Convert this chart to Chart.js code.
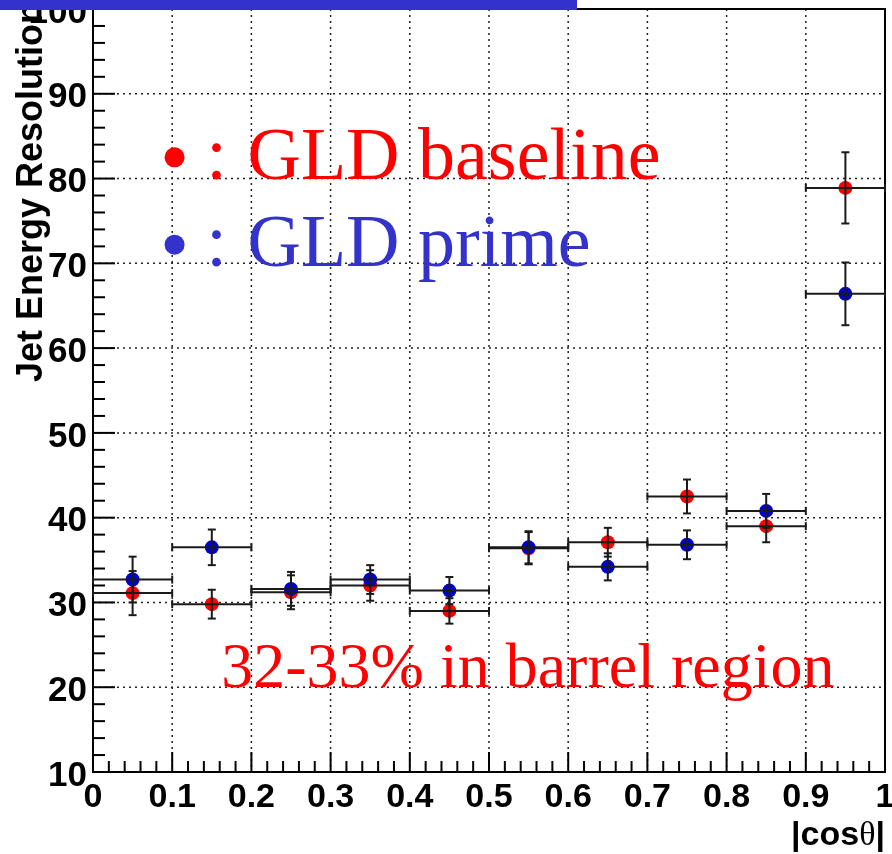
<!DOCTYPE html>
<html>
<head>
<meta charset="utf-8">
<script src="https://cdn.jsdelivr.net/npm/chart.js@4.4.0/dist/chart.umd.min.js"></script>
<style>
  html, body { margin: 0; padding: 0; background: #fff; }
  #wrap { width: 892px; height: 854px; }
</style>
</head>
<body>
<div id="wrap"><canvas id="res"></canvas></div>
<script>
// |cos(theta)| bin centres and half width
const binCenters = [0.05, 0.15, 0.25, 0.35, 0.45, 0.55, 0.65, 0.75, 0.85, 0.95];
const binHalfWidth = 0.05;

// GLD baseline (red)
const baselineRes = [31.1, 29.8, 31.2, 32.0, 29.0, 36.4, 37.1, 42.5, 39.0, 78.9];
const baselineErr = [2.6, 1.7, 2.0, 1.8, 1.5, 1.9, 1.7, 2.0, 1.9, 4.2];

// GLD prime (blue)
const primeRes = [32.7, 36.5, 31.6, 32.7, 31.4, 36.5, 34.2, 36.8, 40.8, 66.4];
const primeErr = [2.7, 2.1, 2.0, 1.7, 1.6, 1.9, 1.6, 1.7, 2.0, 3.7];

const xTickValues = [0, 0.1, 0.2, 0.3, 0.4, 0.5, 0.6, 0.7, 0.8, 0.9, 1];
const yTickValues = [10, 20, 30, 40, 50, 60, 70, 80, 90, 100];

const toPoints = (vals, errs) =>
  binCenters.map((c, i) => ({ x: c, y: vals[i], ex: binHalfWidth, ey: errs[i] }));

const SANS = '"Liberation Sans", Arial, Helvetica, sans-serif';
const SERIF = '"Liberation Serif", "Times New Roman", serif';

function line(ctx, x1, y1, x2, y2) {
  ctx.beginPath();
  ctx.moveTo(x1, y1);
  ctx.lineTo(x2, y2);
  ctx.stroke();
}

const rootStyle = {
  id: 'rootStyle',
  beforeDatasetsDraw(chart) {
    const { ctx, chartArea: a, scales: { x, y } } = chart;
    ctx.save();
    // dotted grid
    ctx.setLineDash([2, 4]);
    ctx.lineWidth = 1.5;
    ctx.strokeStyle = '#222';
    xTickValues.forEach((v) => {
      if (v <= 0 || v >= 1) return;
      const px = x.getPixelForValue(v);
      line(ctx, px, a.top, px, a.bottom);
    });
    yTickValues.forEach((v) => {
      if (v <= 10 || v >= 100) return;
      const py = y.getPixelForValue(v);
      line(ctx, a.left, py, a.right, py);
    });
    ctx.setLineDash([]);

    // inner tick marks
    ctx.lineWidth = 2;
    ctx.strokeStyle = '#000';
    for (let i = 0; i <= 50; i++) {
      const px = x.getPixelForValue(i / 50);
      const len = i % 5 === 0 ? 20 : 11;
      line(ctx, px, a.bottom, px, a.bottom - len);
    }
    for (let i = 0; i <= 45; i++) {
      const py = y.getPixelForValue(10 + 2 * i);
      const len = i % 5 === 0 ? 22 : 12;
      line(ctx, a.left, py, a.left + len, py);
    }
    // frame
    ctx.strokeRect(a.left, a.top, a.right - a.left, a.bottom - a.top);
    ctx.restore();
  },
  afterDatasetsDraw(chart) {
    const { ctx, scales: { x, y } } = chart;
    ctx.save();
    ctx.strokeStyle = '#1a1a1a';
    ctx.lineWidth = 2;
    const cap = 4;
    chart.data.datasets.forEach((ds) => {
      ds.data.forEach((p) => {
        const cx = x.getPixelForValue(p.x);
        const cy = y.getPixelForValue(p.y);
        const xl = x.getPixelForValue(p.x - p.ex);
        const xr = x.getPixelForValue(p.x + p.ex);
        const yt = y.getPixelForValue(p.y + p.ey);
        const yb = y.getPixelForValue(p.y - p.ey);
        line(ctx, xl, cy, xr, cy);
        line(ctx, xl, cy - cap, xl, cy + cap);
        line(ctx, xr, cy - cap, xr, cy + cap);
        line(ctx, cx, yt, cx, yb);
        line(ctx, cx - cap, yt, cx + cap, yt);
        line(ctx, cx - cap, yb, cx + cap, yb);
      });
    });
    ctx.restore();
  },
  afterDraw(chart) {
    const { ctx, chartArea: a, scales: { x, y } } = chart;
    ctx.save();

    // legend-like annotations
    const legend = [
      { label: 'GLD baseline', color: '#ff0000', dotY: 82.5, baseY: 80 },
      { label: 'GLD prime', color: '#3333cc', dotY: 72.2, baseY: 69.7 },
    ];
    legend.forEach((l) => {
      ctx.fillStyle = l.color;
      ctx.beginPath();
      ctx.arc(x.getPixelForValue(0.103), y.getPixelForValue(l.dotY), 10, 0, Math.PI * 2);
      ctx.fill();
      ctx.font = '74px ' + SERIF;
      ctx.textBaseline = 'alphabetic';
      ctx.textAlign = 'center';
      ctx.fillText(':', x.getPixelForValue(0.156), y.getPixelForValue(l.baseY));
      ctx.textAlign = 'left';
      ctx.fillText(l.label, x.getPixelForValue(0.195), y.getPixelForValue(l.baseY));
    });

    ctx.fillStyle = '#ff0000';
    ctx.font = '64px ' + SERIF;
    ctx.textAlign = 'left';
    ctx.fillText('32-33% in barrel region', x.getPixelForValue(0.162), y.getPixelForValue(20));

    // y axis title
    ctx.save();
    ctx.fillStyle = '#000';
    ctx.font = 'bold 36px ' + SANS;
    ctx.translate(42, 2);
    ctx.rotate(-Math.PI / 2);
    ctx.textAlign = 'right';
    ctx.fillText('Jet Energy Resolution', 0, 0);
    ctx.restore();

    // x axis title |cos θ|
    ctx.fillStyle = '#000';
    ctx.textAlign = 'left';
    const parts = [
      { t: '|', f: 'bold 34px ' + SANS },
      { t: 'cos', f: 'bold 34px ' + SANS },
      { t: 'θ', f: '34px ' + SERIF },
      { t: '|', f: 'bold 34px ' + SANS },
    ];
    let total = 0;
    parts.forEach((p) => { ctx.font = p.f; p.w = ctx.measureText(p.t).width; total += p.w; });
    let px = a.right - total;
    parts.forEach((p) => { ctx.font = p.f; ctx.fillText(p.t, px, 845); px += p.w; });

    // blue banner strip at top
    ctx.fillStyle = '#3333cc';
    ctx.fillRect(0, 0, 577, 10);
    ctx.restore();
  },
};

new Chart(document.getElementById('res'), {
  type: 'scatter',
  data: {
    datasets: [
      {
        label: 'GLD baseline',
        data: toPoints(baselineRes, baselineErr),
        backgroundColor: '#ff0000',
        pointRadius: 7,
        pointBorderWidth: 0,
        order: 2,
      },
      {
        label: 'GLD prime',
        data: toPoints(primeRes, primeErr),
        backgroundColor: '#0000d0',
        pointRadius: 7,
        pointBorderWidth: 0,
        order: 1,
      },
    ],
  },
  options: {
    responsive: true,
    maintainAspectRatio: false,
    animation: false,
    layout: { padding: { top: 9, right: 4, left: 0, bottom: 0 } },
    plugins: { legend: { display: false }, tooltip: { enabled: false } },
    scales: {
      x: {
        type: 'linear',
        min: 0,
        max: 1,
        afterBuildTicks: (s) => { s.ticks = xTickValues.map((v) => ({ value: v })); },
        afterFit: (s) => { s.height = 82; s.paddingLeft = 0; s.paddingRight = 0; },
        grid: { display: false, drawTicks: false },
        border: { display: false },
        ticks: {
          color: '#000',
          font: { family: SANS, size: 34, weight: 'bold' },
          padding: 5,
          maxRotation: 0,
          autoSkip: false,
          callback: (v) => String(Number(v.toFixed(1))),
        },
      },
      y: {
        type: 'linear',
        min: 10,
        max: 100,
        afterBuildTicks: (s) => { s.ticks = yTickValues.map((v) => ({ value: v })); },
        afterFit: (s) => { s.width = 93; s.paddingTop = 0; s.paddingBottom = 0; },
        grid: { display: false, drawTicks: false },
        border: { display: false },
        ticks: {
          color: '#000',
          font: { family: SANS, size: 35, weight: 'bold' },
          padding: 6,
          labelOffset: 4,
          autoSkip: false,
        },
      },
    },
  },
  plugins: [rootStyle],
});
</script>
</body>
</html>
